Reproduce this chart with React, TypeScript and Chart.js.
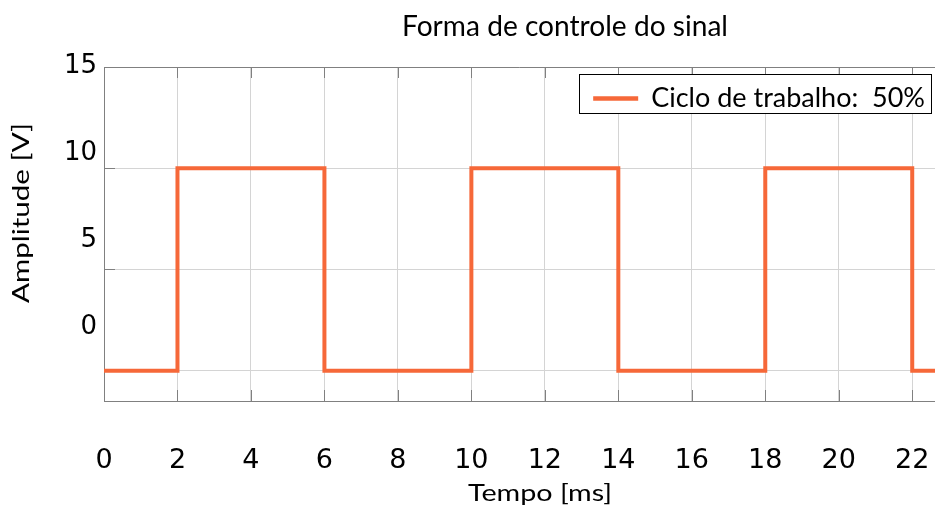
import React, { useEffect, useRef } from 'react';
import { Chart, registerables } from 'chart.js';

Chart.register(...registerables);

// ---- data ----
const chartTitle = 'Forma de controle do sinal';
const xAxisTitle = 'Tempo [ms]';
const yAxisTitle = 'Amplitude [V]';
const seriesLabel = 'Ciclo de trabalho:  50%';
const signalTimes = [0, 2, 2, 6, 6, 10, 10, 14, 14, 18, 18, 22, 22, 22.7];
const signalLevels = [0, 0, 10, 10, 0, 0, 10, 10, 0, 0, 10, 10, 0, 0];
const xTickValues = [0, 2, 4, 6, 8, 10, 12, 14, 16, 18, 20, 22];
const yGridValues = [0, 5, 10, 15];
const yTickLabels = [0, 5, 10, 15];

const ORANGE = '#f66839';
const GRID = '#d4d4d4';
const FRAME = '#808080';
const TEXT_FONT = 'Lato';
const NUM_FONT = 'DejaVu Sans';

function drawFitted(ctx: CanvasRenderingContext2D, text: string, width: number) {
  const w = ctx.measureText(text).width;
  ctx.save();
  ctx.scale(width / w, 1);
  ctx.fillText(text, 0, 0);
  ctx.restore();
}

const decorPlugin = {
  id: 'decor',
  beforeDatasetsDraw(chart: any) {
    const { ctx, chartArea } = chart;
    const xs = chart.scales.x;
    const ys = chart.scales.y;
    ctx.save();
    ctx.strokeStyle = FRAME;
    ctx.lineWidth = 1;
    ctx.beginPath();
    ctx.moveTo(chartArea.left, Math.round(chartArea.top) + 0.5);
    ctx.lineTo(chartArea.right, Math.round(chartArea.top) + 0.5);
    ctx.stroke();
    const tl = 11;
    xTickValues.forEach((v) => {
      const px = Math.round(xs.getPixelForValue(v)) + 0.5;
      ctx.beginPath();
      ctx.moveTo(px, chartArea.bottom);
      ctx.lineTo(px, chartArea.bottom - tl);
      ctx.moveTo(px, chartArea.top);
      ctx.lineTo(px, chartArea.top + tl);
      ctx.stroke();
    });
    yGridValues.forEach((v) => {
      const py = Math.round(ys.getPixelForValue(v)) + 0.5;
      ctx.beginPath();
      ctx.moveTo(chartArea.left, py);
      ctx.lineTo(chartArea.left + tl, py);
      ctx.stroke();
    });
    ctx.restore();
  },
  afterDraw(chart: any) {
    const { ctx, chartArea } = chart;
    ctx.save();
    ctx.fillStyle = '#000';
    ctx.textAlign = 'left';
    ctx.textBaseline = 'alphabetic';
    // chart title
    ctx.font = `28px ${TEXT_FONT}`;
    ctx.save();
    ctx.translate(402, 36);
    drawFitted(ctx, chartTitle, 326);
    ctx.restore();
    // x axis title
    ctx.font = `23px ${TEXT_FONT}`;
    ctx.save();
    ctx.translate(468, 501);
    drawFitted(ctx, xAxisTitle, 144);
    ctx.restore();
    // y axis title
    ctx.save();
    ctx.translate(29, 303);
    ctx.rotate(-Math.PI / 2);
    drawFitted(ctx, yAxisTitle, 180);
    ctx.restore();

    // legend
    const ds = chart.data.datasets[0];
    ctx.font = `27px ${TEXT_FONT}`;
    const tw = ctx.measureText(ds.label).width;
    const boxRight = chartArea.right - 4;
    const boxTop = chartArea.top + 7;
    const boxH = 39;
    const boxW = 14 + 45 + 13 + tw + 6;
    const boxLeft = boxRight - boxW;
    ctx.fillStyle = '#fff';
    ctx.fillRect(boxLeft, boxTop, boxW, boxH);
    ctx.strokeStyle = '#000';
    ctx.lineWidth = 1;
    ctx.strokeRect(Math.round(boxLeft) + 0.5, Math.round(boxTop) + 0.5, Math.round(boxW), boxH);
    ctx.strokeStyle = ds.borderColor;
    ctx.lineWidth = 4.5;
    ctx.beginPath();
    ctx.moveTo(boxLeft + 14, boxTop + 24.5);
    ctx.lineTo(boxLeft + 59, boxTop + 24.5);
    ctx.stroke();
    ctx.fillStyle = '#000';
    ctx.fillText(ds.label, boxLeft + 72, boxTop + 32.5);
    ctx.restore();
  },
};

export default function App() {
  const canvasRef = useRef<HTMLCanvasElement | null>(null);

  useEffect(() => {
    document.body.style.margin = '0';
    document.body.style.overflow = 'hidden';
    const canvas = canvasRef.current;
    if (!canvas) return;
    const chart = new Chart(canvas, {
      type: 'line',
      data: {
        datasets: [
          {
            label: seriesLabel,
            data: signalTimes.map((t, i) => ({ x: t, y: signalLevels[i] })),
            borderColor: ORANGE,
            backgroundColor: ORANGE,
            borderWidth: 4,
            pointRadius: 0,
            tension: 0,
            fill: false,
            borderJoinStyle: 'miter',
          },
        ],
      },
      options: {
        animation: false,
        responsive: true,
        maintainAspectRatio: false,
        layout: { padding: { top: 67, left: 0, right: 0, bottom: 0 } },
        plugins: {
          legend: { display: false },
          title: { display: false },
          tooltip: { enabled: false },
        },
        scales: {
          x: {
            type: 'linear',
            min: 0,
            max: 22.62,
            afterBuildTicks: (s: any) => {
              s.ticks = xTickValues.map((v) => ({ value: v }));
            },
            grid: { color: GRID, lineWidth: 1, drawTicks: false },
            border: { color: FRAME, width: 1 },
            ticks: {
              font: { family: NUM_FONT, size: 27 },
              color: '#000',
              padding: 44,
              maxRotation: 0,
              autoSkip: false,
            },
            afterFit: (s: any) => {
              s.height = 109;
              s.paddingLeft = 0;
              s.paddingRight = 0;
            },
          },
          y: {
            type: 'linear',
            position: 'left',
            min: -1.5,
            max: 15,
            afterBuildTicks: (s: any) => {
              s.ticks = yGridValues.map((v) => ({ value: v }));
            },
            grid: { color: GRID, lineWidth: 1, drawTicks: false },
            border: { color: FRAME, width: 1 },
            ticks: { display: false },
            afterFit: (s: any) => {
              s.width = 0;
              s.paddingTop = 0;
              s.paddingBottom = 0;
            },
          },
          yLabels: {
            type: 'linear',
            position: 'left',
            min: -4.265,
            max: 14.985,
            afterBuildTicks: (s: any) => {
              s.ticks = yTickLabels.map((v) => ({ value: v }));
            },
            grid: { display: false, drawTicks: false },
            border: { display: false },
            ticks: {
              font: { family: NUM_FONT, size: 26 },
              color: '#000',
              padding: 7,
            },
            afterFit: (s: any) => {
              s.width = 104;
              s.paddingTop = 0;
              s.paddingBottom = 0;
            },
          },
        },
      },
      plugins: [decorPlugin],
    });
    return () => chart.destroy();
  }, []);

  return (
    <div style={{ width: 935, height: 510, position: 'relative', background: '#fff' }}>
      <canvas ref={canvasRef} style={{ display: 'block' }} />
    </div>
  );
}
